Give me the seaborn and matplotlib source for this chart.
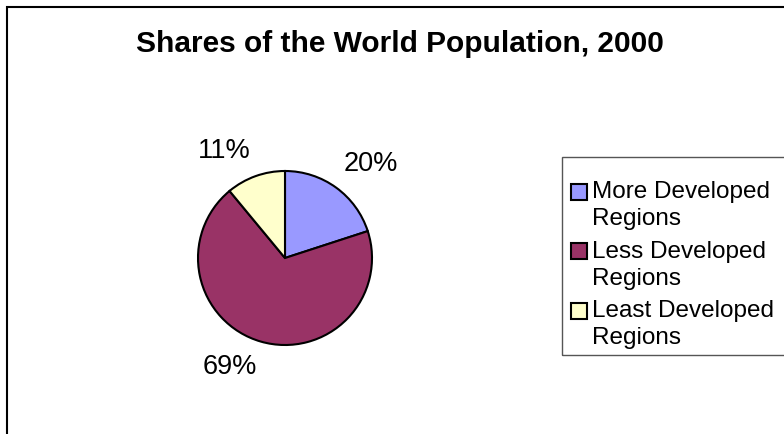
import matplotlib.pyplot as plt
import matplotlib.patches as mpatches
from matplotlib.legend_handler import HandlerPatch
import numpy as np
import seaborn as sns

regions = ["More Developed\nRegions", "Less Developed\nRegions", "Least Developed\nRegions"]
shares = [20, 69, 11]
colors = ["#9999FF", "#993366", "#FFFFCC"]

sns.set_theme(style="white")
plt.rcParams['font.family'] = ['Liberation Sans', 'DejaVu Sans']
plt.rcParams['text.color'] = 'black'

fig = plt.figure(figsize=(7.84, 4.34), dpi=100)

# outer chart border (chart area runs off the right / bottom of the picture)
fig.patches.append(mpatches.Rectangle((7 / 784, -0.2), 1.2, 1.2 - 7 / 434, transform=fig.transFigure,
                                      fill=False, edgecolor="black", linewidth=1.5))

fig.text(400 / 784, 1 - 44 / 434, "Shares of the World Population, 2000",
         ha="center", va="center", fontsize=21.5, fontweight="bold")

# pie centre ~ (285, 258) px, radius ~ 87 px
ax = fig.add_axes([(285 - 100) / 784, (434 - 258 - 100) / 434, 200 / 784, 200 / 434])
wedges, texts = ax.pie(shares, colors=colors, startangle=90, counterclock=False,
                       labels=[f"{s}%" for s in shares], labeldistance=1.15,
                       wedgeprops=dict(edgecolor="black", linewidth=1.5),
                       textprops=dict(fontsize=19.5))
# Excel style: label box corner sits just outside the wedge midpoint
for w, t in zip(wedges, texts):
    ang = np.deg2rad((w.theta1 + w.theta2) / 2)
    t.set_ha("left" if np.cos(ang) > 0 else "right")
    t.set_va("bottom" if np.sin(ang) > 0 else "top")
ax.set_xlim(-100 / 87, 100 / 87)
ax.set_ylim(-100 / 87, 100 / 87)
ax.set_aspect("equal")


def top_square(legend, orig_handle, xdescent, ydescent, width, height, fontsize):
    # square marker lined up with the first text line
    y0 = -ydescent + (height - width) / 2 + 0.56 * fontsize
    return mpatches.Rectangle((-xdescent, y0), width, width)


# legend box drawn separately (it runs off the right edge)
fig.patches.append(mpatches.Rectangle((562 / 784, 1 - 355 / 434), 0.5, 198 / 434, transform=fig.transFigure,
                                      fill=False, edgecolor="#555555", linewidth=1))

leg = fig.legend(wedges, regions, loc="upper left", bbox_to_anchor=(571 / 784, 1 - 181 / 434),
                 fontsize=17.5, frameon=False, handlelength=0.66, handleheight=0.66,
                 handletextpad=0.22, labelspacing=0.43, borderpad=0, borderaxespad=0,
                 handler_map={mpatches.Wedge: HandlerPatch(patch_func=top_square)})
for t in leg.get_texts():
    t.set_linespacing(1.3)
for h in leg.legend_handles:
    h.set_linewidth(1.5)
    h.set_edgecolor("black")

fig.savefig("out.png", dpi=100)
